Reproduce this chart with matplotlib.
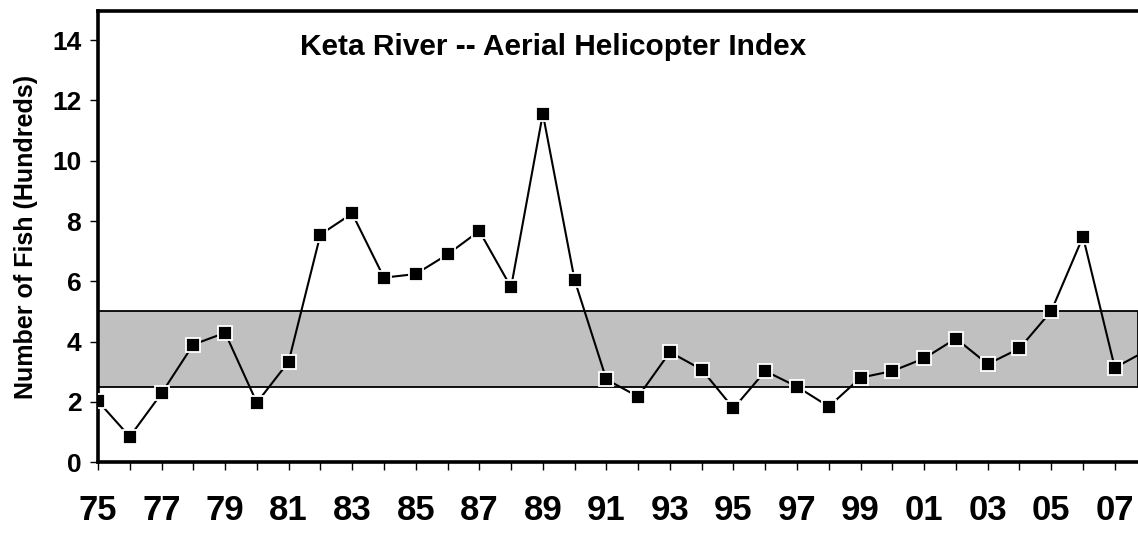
import numpy as np
import matplotlib
matplotlib.use('Agg')
import matplotlib.pyplot as plt

plt.rcParams.update({
    'font.family': ['Liberation Sans', 'DejaVu Sans'],
    'font.weight': 'bold',
})

# ── Data ─────────────────────────────────────────────────────────────────────
years = np.arange(1975, 2009)
fish = [2.02, 0.84, 2.28, 3.90, 4.29, 1.97, 3.33, 7.55, 8.25, 6.12,
        6.24, 6.89, 7.67, 5.80, 11.56, 6.04, 2.74, 2.17, 3.65, 3.07,
        1.78, 3.02, 2.50, 1.84, 2.80, 3.02, 3.44, 4.10, 3.25, 3.77,
        5.01, 7.48, 3.13, 3.70]
band_low, band_high = 2.5, 5.0
tick_years = np.arange(1975, 2008, 2)
tick_labels = [f'{y % 100:02d}' for y in tick_years]
title = 'Keta River -- Aerial Helicopter Index'

# ── Figure ───────────────────────────────────────────────────────────────────
fig = plt.figure(figsize=(11.38, 5.35), dpi=100)
ax = fig.add_axes([0.0861, 0.1364, 0.9139, 0.843])

ax.axhspan(band_low, band_high, facecolor='#c0c0c0', edgecolor='black',
           lw=1.3, zorder=1)
ax.plot(years, fish, '-', color='black', lw=1.5, marker='s', ms=10.5,
        mfc='black', mec='white', mew=1.3, zorder=3)

ax.set_xticks(years, minor=True)
ax.set_xticks(tick_years)
ax.set_xticklabels(tick_labels, fontsize=25, fontweight='bold')
ax.set_yticks(np.arange(0, 15, 2))
ax.set_xlim(1975, 2007.73)
ax.set_ylim(0, 14.97)
ax.tick_params(axis='x', which='both', direction='out', length=6,
               width=1, pad=17)
ax.tick_params(axis='y', direction='out', length=6, width=1, pad=6,
               labelsize=19)
for lbl in ax.get_yticklabels():
    lbl.set_fontweight('bold')

for side in ['left', 'top', 'bottom']:
    ax.spines[side].set_linewidth(2.6)
ax.spines['right'].set_visible(False)

ax.set_ylabel('Number of Fish (Hundreds)', fontsize=18, fontweight='bold',
              labelpad=10)
ax.text(0.4375, 0.92, title, transform=ax.transAxes, ha='center',
        va='center', fontsize=21.5, fontweight='bold')

fig.savefig('out.png', dpi=100)
